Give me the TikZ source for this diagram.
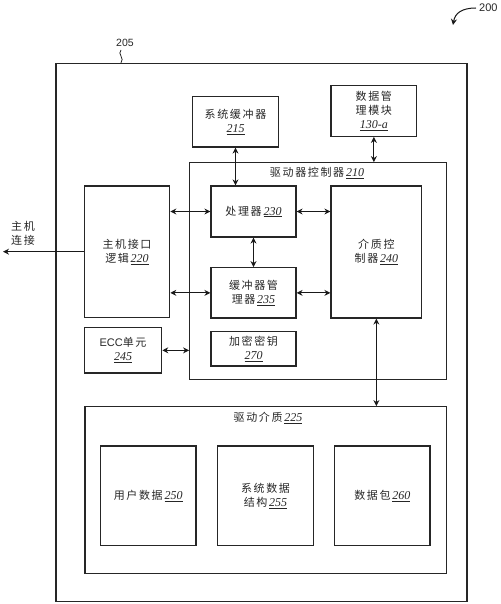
\documentclass[tikz,border=0pt]{standalone}
\usepackage{fontspec}
\setmainfont{Liberation Serif}
\newfontfamily\cjk[LetterSpace=15]{Noto Sans CJK SC}
\newfontfamily\sansf{Liberation Sans}
\newfontfamily\numf{Liberation Serif}
\usetikzlibrary{arrows.meta}
\newcommand\refnum[1]{{\numf\fontsize{12}{14}\selectfont\itshape\underline{#1}}}
\tikzset{
  box/.style={draw=black!85, line width=1.2pt, rectangle, inner sep=0pt, align=center,
    text=black!85, font=\cjk\fontsize{11}{14}\selectfont},
  lbl/.style={inner sep=0pt, align=center, text=black!85, font=\cjk\fontsize{11}{14}\selectfont},
  conn/.style={line width=1pt, draw=black!90, {Stealth[length=6pt,width=6pt]}-{Stealth[length=6pt,width=6pt]}},
  oneway/.style={line width=1pt, draw=black!90, -{Stealth[length=6pt,width=6pt]}}
}
\begin{document}
\begin{tikzpicture}[x=1pt,y=-1pt]
\useasboundingbox (0,0) rectangle (500,604);
% outer device
\node[box, minimum width=411pt, minimum height=538pt] (b205) at (261.5,332.5) {};
\node[lbl, font=\sansf\fontsize{10.5}{12}\selectfont] (l205) at (125,43) {205};
\coordinate (s205a) at (121,50);
\draw[line width=0.8pt, black!85] (s205a) .. controls (117,54) and (125,58) .. (b205.north -| s205a);
\node[lbl, font=\sansf\fontsize{11}{12}\selectfont, anchor=west] (l200) at (479,8) {200};
\coordinate (a200s) at (476,8);
\coordinate (a200e) at (453,25);
\draw[oneway] (a200s) .. controls (462,8) and (455,13) .. (a200e);
% upper boxes
\node[box, minimum width=85.6pt, minimum height=50.3pt] (b215) at (235.5,121.85) {系统缓冲器\\\refnum{215}};
\node[box, minimum width=85.7pt, minimum height=50.6pt] (b130) at (373.85,111) {数据管\\理模块\\\refnum{130-a}};
% drive controller
\node[box, minimum width=257pt, minimum height=216.6pt] (b210) at (318.2,271) {};
\node[lbl] (t210) at (317,173) {驱动器控制器\,\refnum{210}};
\node[box, minimum width=85.4pt, minimum height=131.3pt] (b220) at (127,251.65) {主机接口\\逻辑\,\refnum{220}};
\node[box, minimum width=85pt, minimum height=51pt] (b230) at (253.5,211.5) {处理器\,\refnum{230}};
\node[box, minimum width=85pt, minimum height=50.3pt] (b235) at (253.5,292.85) {缓冲器管\\理器\,\refnum{235}};
\node[box, minimum width=90.7pt, minimum height=132pt] (b240) at (376.35,252) {介质控\\制器\,\refnum{240}};
\node[box, minimum width=77.4pt, minimum height=45.3pt] (b245) at (123,350.35) {{\sansf\fontsize{11}{14}\selectfont ECC}单元\\\refnum{245}};
\node[box, minimum width=85pt, minimum height=34.7pt] (b270) at (253.5,348.65) {加密密钥\\\refnum{270}};
% drive media
\node[box, minimum width=361.7pt, minimum height=166.6pt] (b225) at (265.85,490) {};
\node[lbl] (t225) at (268,418) {驱动介质\,\refnum{225}};
\node[box, minimum width=95.7pt, minimum height=99.7pt] (b250) at (148.15,495.85) {用户数据\,\refnum{250}};
\node[box, minimum width=95.6pt, minimum height=99.7pt] (b255) at (265.5,495.85) {系统数据\\结构\,\refnum{255}};
\node[box, minimum width=95.3pt, minimum height=99.7pt] (b260) at (382.35,495.85) {数据包\,\refnum{260}};
% host connection
\node[lbl] (lhost) at (23,233) {主机\\连接};
\coordinate (hostend) at (3,251.65);
\draw[oneway] (b220.west) -- (hostend);
% connectors
\draw[conn] (b215.south) -- (b215.south |- b230.north);
\draw[conn] (b130.south) -- (b130.south |- b210.north);
\draw[conn] (b230.west -| b220.east) -- (b230.west);
\draw[conn] (b235.west -| b220.east) -- (b235.west);
\draw[conn] (b230.east) -- (b230.east -| b240.west);
\draw[conn] (b235.east) -- (b235.east -| b240.west);
\draw[conn] (b230.south) -- (b235.north);
\draw[conn] (b245.east) -- (b245.east -| b210.west);
\draw[conn] (b240.south) -- (b240.south |- b225.north);
\end{tikzpicture}
\end{document}
